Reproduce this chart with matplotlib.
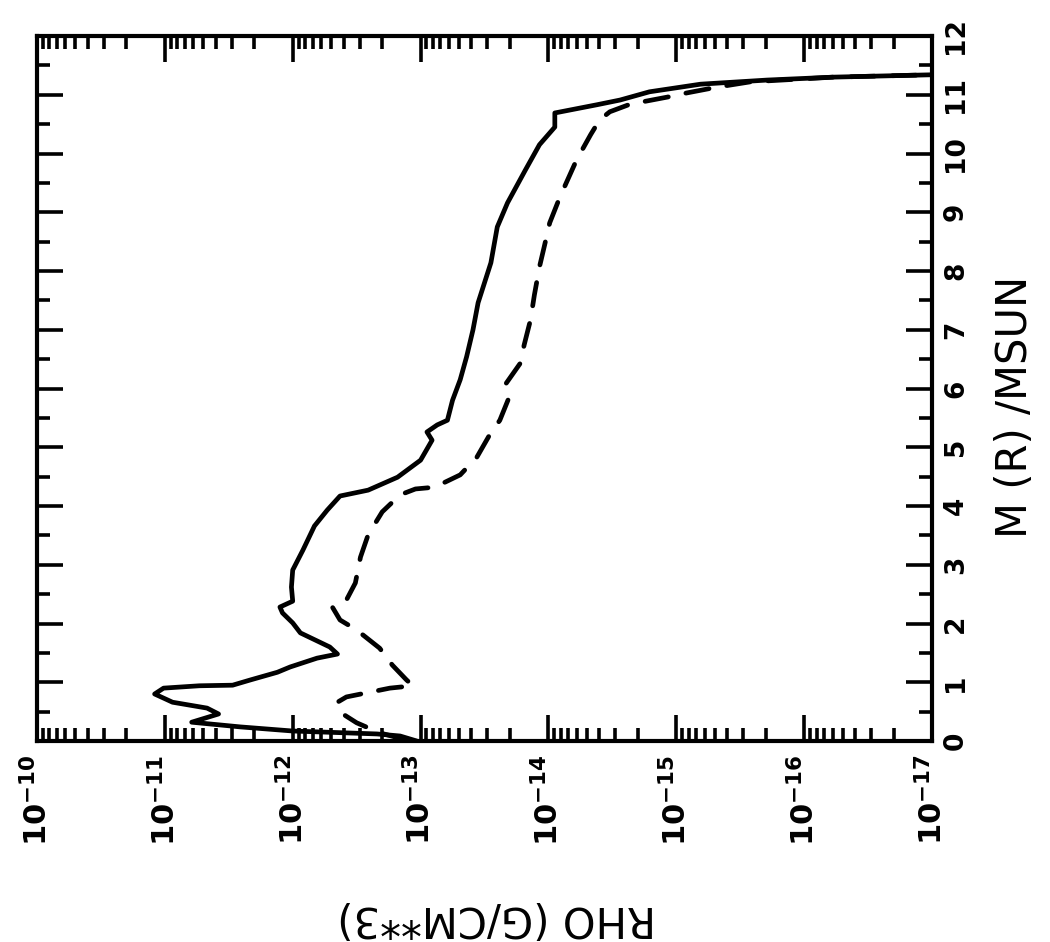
import numpy as np
import matplotlib
matplotlib.use("Agg")
import matplotlib.pyplot as plt
from matplotlib.ticker import LogLocator, MultipleLocator, FixedLocator, NullFormatter

plt.rcParams['font.family'] = ['DejaVu Sans']
plt.rcParams['mathtext.fontset'] = 'dejavusans'
plt.rcParams['mathtext.default'] = 'bf'

# ---- data (log10 of density, enclosed mass in solar masses) ----
solid_log_rho = [-12.97, -12.84, -12.66, -12.00, -11.59, -11.21, -11.42, -11.33, -11.06, -10.92,
                 -10.99, -11.27, -11.53, -11.67, -11.88, -11.98, -12.19, -12.35, -12.29, -12.06,
                 -12.00, -11.92, -11.90, -12.00, -11.99, -12.00, -12.08, -12.17, -12.27, -12.37,
                 -12.59, -12.82, -13.00, -13.09, -13.05, -13.13, -13.21, -13.25, -13.31, -13.36,
                 -13.41, -13.45, -13.50, -13.55, -13.60, -13.68, -13.82, -13.93, -14.05, -14.05,
                 -14.38, -14.56, -14.79, -15.19, -15.71, -16.23, -17.00]
solid_mass = [0.00, 0.085, 0.12, 0.17, 0.24, 0.32, 0.46, 0.56, 0.66, 0.80,
              0.90, 0.94, 0.95, 1.04, 1.17, 1.26, 1.41, 1.48, 1.60, 1.84,
              2.01, 2.18, 2.28, 2.38, 2.62, 2.91, 3.25, 3.66, 3.93, 4.17,
              4.27, 4.49, 4.78, 5.12, 5.26, 5.38, 5.46, 5.80, 6.15, 6.54,
              7.00, 7.46, 7.80, 8.14, 8.75, 9.16, 9.72, 10.15, 10.45, 10.69,
              10.83, 10.91, 11.05, 11.18, 11.25, 11.30, 11.34]

dashed_log_rho = [-12.88, -12.68, -12.50, -12.37, -12.35, -12.42, -12.76, -12.94, -12.89, -12.78,
                  -12.68, -12.50, -12.37, -12.31, -12.42, -12.49, -12.53, -12.59, -12.70, -12.84,
                  -12.96, -13.11, -13.31, -13.44, -13.54, -13.62, -13.70, -13.67, -13.78, -13.81,
                  -13.86, -13.89, -13.93, -13.97, -14.01, -14.09, -14.22, -14.33, -14.40, -14.48,
                  -14.64, -14.93, -15.08, -15.32, -15.58, -16.23, -17.00]
dashed_mass = [0.02, 0.14, 0.31, 0.49, 0.66, 0.75, 0.90, 0.94, 1.04, 1.29,
               1.58, 1.89, 2.06, 2.28, 2.40, 2.69, 3.13, 3.51, 3.90, 4.19,
               4.29, 4.32, 4.53, 4.83, 5.21, 5.46, 5.89, 6.09, 6.43, 6.74,
               7.17, 7.59, 8.07, 8.44, 8.82, 9.26, 9.89, 10.32, 10.57, 10.71,
               10.84, 10.96, 11.03, 11.13, 11.22, 11.30, 11.34]

x_decades = [-10, -11, -12, -13, -14, -15, -16, -17]
x_tick_labels = [r'$10^{%d}$' % d for d in x_decades]
y_ticks = list(range(0, 13))
x_label = 'RHO (G/CM**3)'
y_label = 'M (R) /MSUN'

# ---- figure ----
fig = plt.figure(figsize=(10.5, 9.42), dpi=100)
ax = fig.add_axes([37/1050, 1-741/942, (932-37)/1050, (741-36)/942])

ax.plot(10.0**np.array(solid_log_rho), solid_mass, color='black', lw=3.4,
        solid_capstyle='round', solid_joinstyle='round')
ax.plot(10.0**np.array(dashed_log_rho), dashed_mass, color='black', lw=3.4,
        linestyle=(0, (5.0, 3.8)), dash_capstyle='round', dash_joinstyle='round')

ax.set_xscale('log')
ax.set_xlim(1e-10, 1e-17)
ax.set_ylim(0, 12)

ax.xaxis.set_major_locator(FixedLocator([10.0**d for d in x_decades]))
ax.set_xticklabels(x_tick_labels)
ax.xaxis.set_minor_locator(LogLocator(base=10, subs=np.arange(2, 10), numticks=50))
ax.xaxis.set_minor_formatter(NullFormatter())

ax.set_yticks(y_ticks)
ax.set_yticklabels([str(v) for v in y_ticks])
ax.yaxis.set_minor_locator(MultipleLocator(0.5))

ax.tick_params(which='both', direction='in', top=True, bottom=True, left=True, right=True,
               labelleft=False, labelright=True, labeltop=False, labelbottom=True,
               width=2.6, color='black')
ax.tick_params(which='major', length=18.5)
ax.tick_params(which='minor', length=9.5)
ax.tick_params(axis='x', which='major', pad=10, labelsize=22, labelrotation=90)
ax.tick_params(axis='y', which='major', pad=8, labelsize=19, labelrotation=90)
for lab in ax.get_xticklabels():
    lab.set_fontweight('bold')
for lab in ax.get_yticklabels():
    lab.set_fontweight('bold')
    lab.set_verticalalignment('center')

for sp in ax.spines.values():
    sp.set_linewidth(3.0)
    sp.set_color('black')

fig.text(1015/1050, 1-407/942, y_label, rotation=90, ha='center', va='center',
         fontsize=30, color='black')
fig.text(497/1050, 1-918/942, x_label, rotation=180, ha='center', va='center',
         fontsize=30, color='black')

fig.savefig('out.png', dpi=100, facecolor='white')
